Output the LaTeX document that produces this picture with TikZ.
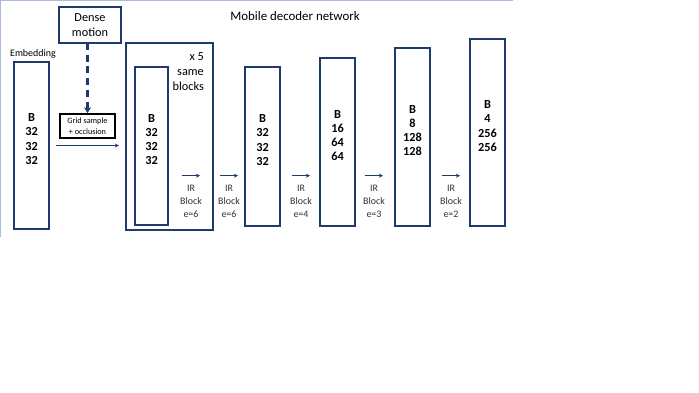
\documentclass[tikz,border=0pt]{standalone}
\usepackage{fontspec}
\setmainfont{Carlito}
\usetikzlibrary{positioning,arrows.meta}

\definecolor{navy}{HTML}{1F3A6E}
\definecolor{frameblue}{HTML}{A9BCDD}

\tikzset{
  layer/.style={draw=navy, line width=1.4pt, inner sep=0pt, outer sep=0pt},
  dims/.style={font=\bfseries\fontsize{10.5}{12}\selectfont, align=center},
  irlab/.style={font=\fontsize{8.5}{11}\selectfont, align=center, text=black!80, inner sep=0pt},
  arr/.style={draw=navy, line width=0.8pt, -{Stealth[length=3.5pt,width=3.5pt]}},
}

\begin{document}
\begin{tikzpicture}[x=0.03cm, y=-0.03cm]

  \useasboundingbox (0,0) rectangle (699,393);
  \draw[frameblue, line width=0.8pt] (0,237) -- (0,0) -- (513,0);

  \node[font=\fontsize{11}{13}\selectfont] (title) at (295,16) {Mobile decoder network};

  % input side
  \node[layer, minimum width=1.05cm, minimum height=5.01cm] (emb) at (31.5,145.5) {};
  \node[dims] at ([yshift=5.5]emb.center) {B\\32\\32\\32};
  \node[font=\fontsize{8.5}{10}\selectfont] (emblab) at (33,54) {Embedding};

  \node[layer, minimum width=1.86cm, minimum height=1.08cm, align=center,
        font=\fontsize{10.5}{13}\selectfont] (dense) at (90,25) {Dense\\motion};
  \node[draw=black, line width=1.5pt, minimum width=1.65cm, minimum height=0.72cm,
        inner sep=0pt, align=center, font=\fontsize{7}{9}\selectfont] (grid) at (87.5,126)
        {Grid sample\\+ occlusion};
  \draw[navy, line width=2pt, dash pattern=on 6pt off 4pt, -{Stealth[length=5pt,width=6pt]}]
    (dense.south -| grid.north) -- (grid.north);

  % repeated blocks
  \node[layer, minimum width=2.61cm, minimum height=5.61cm] (big) at (169.5,136.5) {};
  \node[anchor=north east, align=right, font=\fontsize{10.5}{13.2}\selectfont] (rep)
    at ([shift={(-5,5)}]big.north east) {x 5\\same\\blocks};
  \node[layer, minimum width=0.99cm, minimum height=4.74cm] (l1) at (151.5,146) {};
  \node[dims] at ([yshift=5.5]l1.center) {B\\32\\32\\32};

  \draw[arr] ([xshift=6]emb.east) -- ([xshift=-6]big.west |- emb.east);

  % decoder stages
  \node[layer, minimum width=1.05cm, minimum height=4.77cm] (l2) at (262.5,146.5) {};
  \node[dims] at ([yshift=5.5]l2.center) {B\\32\\32\\32};
  \node[layer, minimum width=1.05cm, minimum height=5.04cm] (l3) at (337.5,142) {};
  \node[dims] at ([yshift=5.5]l3.center) {B\\16\\64\\64};
  \node[layer, minimum width=1.05cm, minimum height=5.34cm] (l4) at (412.5,137) {};
  \node[dims] at ([yshift=5.5]l4.center) {B\\8\\128\\128};
  \node[layer, minimum width=1.05cm, minimum height=5.61cm] (l5) at (487.5,132.5) {};
  \node[dims] at ([yshift=5.5]l5.center) {B\\4\\256\\256};

  \foreach \x/\e [count=\i] in {191/6,229/6,301/4,374/3,451/2}{
    \node[irlab] (ir\i) at (\x,201) {IR\\Block\\e=\e};
    \draw[arr] ([shift={(-9,-9)}]ir\i.north) -- ++(18,0);
  }

\end{tikzpicture}
\end{document}
